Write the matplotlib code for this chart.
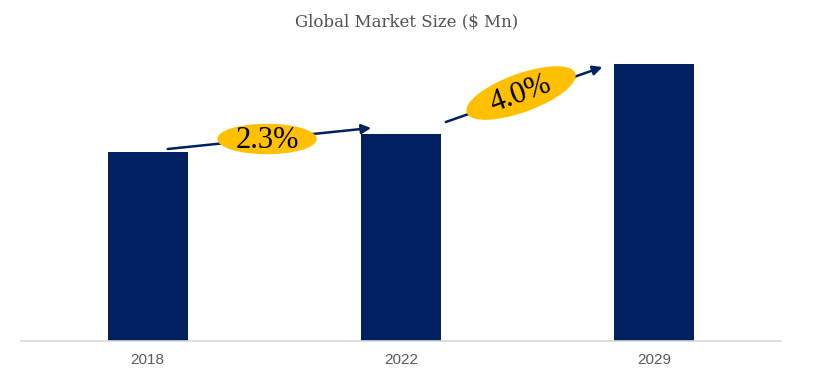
import matplotlib.pyplot as plt
from matplotlib.patches import Ellipse

years = ['2018', '2022', '2029']
market_size = [189, 207, 277]
cagr_labels = ['2.3%', '4.0%']

bar_color = '#002060'
badge_color = '#FFC000'

fig = plt.figure(figsize=(8.13, 3.79), dpi=100)
ax = fig.add_axes([21 / 813, 38 / 379, 760 / 813, 300 / 379])

x = range(len(years))
ax.bar(x, market_size, width=0.315, color=bar_color)

ax.set_xlim(-0.5, 2.5)
ax.set_ylim(0, 300)
ax.set_xticks(list(x))
ax.set_xticklabels(years, fontsize=11, color='#595959', family='Liberation Sans')
ax.tick_params(axis='x', length=0, pad=9)
ax.set_yticks([])
for side in ['top', 'right', 'left']:
    ax.spines[side].set_visible(False)
ax.spines['bottom'].set_color('#d9d9d9')
ax.spines['bottom'].set_linewidth(1.2)

fig.text(0.5, 1 - 22 / 379, 'Global Market Size ($ Mn)', ha='center', va='center',
         fontsize=12, color='#505050', family='DejaVu Serif')

# growth arrows between bars
arrows = [((0.079, 192), (0.882, 213)), ((1.177, 219), (1.795, 274))]
for start, end in arrows:
    ax.annotate('', xy=end, xytext=start,
                arrowprops=dict(arrowstyle='-|>', color=bar_color, lw=1.8,
                                mutation_scale=14, shrinkA=0, shrinkB=0))

# CAGR badges (pixel positions -> inches)
badges = [((267, 139), 98, 29, 0), ((521, 93), 114, 37, 20)]
for (cx, cy), w, h, ang in badges:
    fig.add_artist(Ellipse((cx / 100, (379 - cy) / 100), w / 100, h / 100, angle=ang,
                           transform=fig.dpi_scale_trans, color=badge_color, zorder=3))
for ((cx, cy), w, h, ang), lab in zip(badges, cagr_labels):
    fig.text(cx / 813, 1 - (cy + 1) / 379, lab, ha='center', va='center', rotation=ang,
             fontsize=22, family='Liberation Serif', color='black', zorder=4)

fig.savefig('out.png', dpi=100)
